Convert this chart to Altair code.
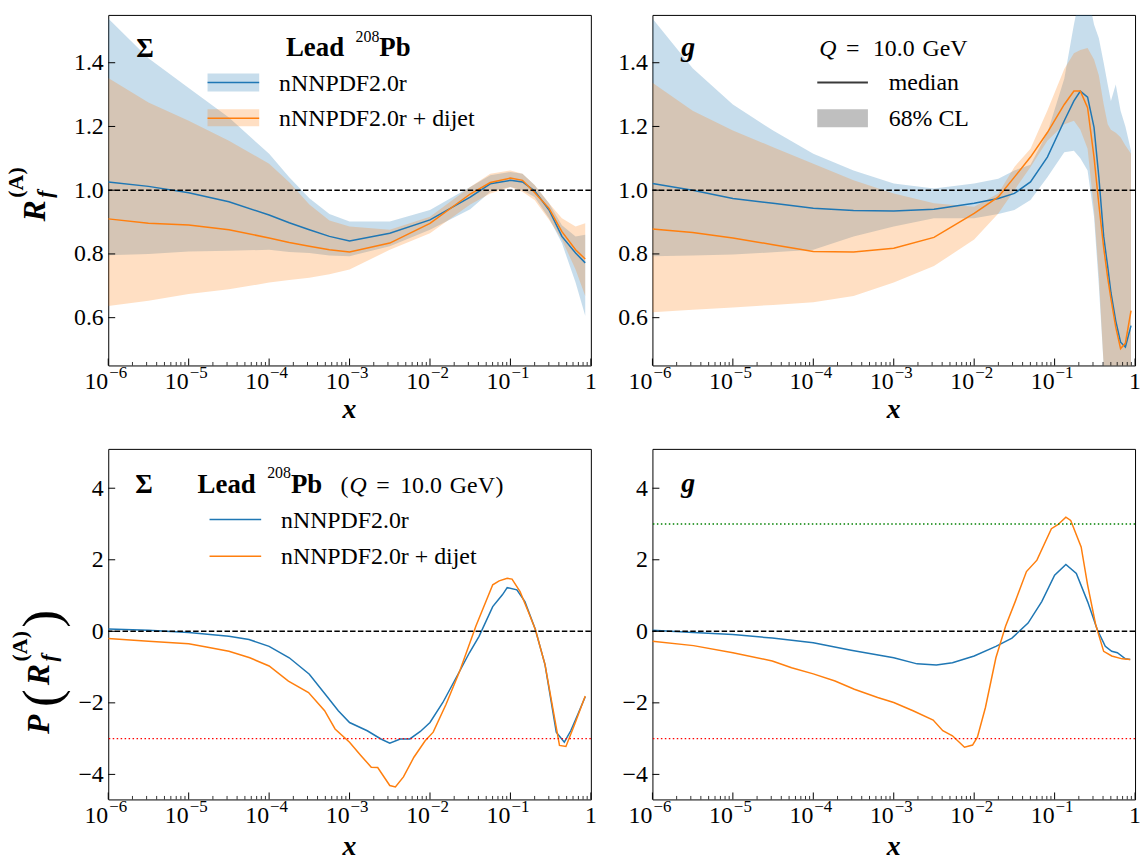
import altair as alt
import numpy as np
import pandas as pd

SERIF = "'Liberation Serif', 'DejaVu Serif', 'Times New Roman', serif"
BLUE = "#1f77b4"
ORANGE = "#ff7f0e"
PW, PH = 486, 353

# ---------------- Sigma: ratio to proton, 68% CL bands ----------------
sig_r_logx = [-6, -5.5, -5, -4.5, -4, -3.75, -3.5, -3.25, -3, -2.5, -2, -1.5, -1.25,
              -1.0, -0.85, -0.7, -0.52, -0.36, -0.19, -0.07]
sig_r_base_med = [1.026, 1.012, 0.992, 0.964, 0.922, 0.898, 0.876, 0.855, 0.841, 0.865,
                  0.907, 0.978, 1.02, 1.031, 1.026, 0.998, 0.938, 0.855, 0.803, 0.772]
sig_r_base_hi = [1.539, 1.414, 1.321, 1.228, 1.114, 1.041, 0.975, 0.925, 0.902, 0.902,
                 0.938, 1.01, 1.047, 1.057, 1.052, 1.016, 0.959, 0.89, 0.855, 0.86]
sig_r_base_lo = [0.796, 0.80, 0.808, 0.81, 0.813, 0.806, 0.803, 0.795, 0.793, 0.824,
                 0.876, 0.94, 0.995, 1.01, 1.0, 0.979, 0.912, 0.834, 0.71, 0.606]
sig_r_dijet_med = [0.91, 0.896, 0.891, 0.876, 0.85, 0.836, 0.824, 0.813, 0.806, 0.834,
                   0.896, 0.988, 1.024, 1.038, 1.031, 0.993, 0.943, 0.87, 0.813, 0.784]
sig_r_dijet_hi = [1.352, 1.275, 1.218, 1.155, 1.083, 1.025, 0.955, 0.905, 0.886, 0.876,
                  0.917, 1.01, 1.052, 1.062, 1.052, 1.016, 0.959, 0.912, 0.886, 0.896]
sig_r_dijet_lo = [0.637, 0.653, 0.674, 0.689, 0.71, 0.718, 0.725, 0.736, 0.751, 0.813,
                  0.865, 0.955, 0.99, 1.01, 0.995, 0.969, 0.907, 0.845, 0.751, 0.668]

# ---------------- gluon: ratio to proton, 68% CL bands ----------------
g_r_logx = [-6, -5.5, -5, -4.5, -4, -3.5, -3, -2.5, -2, -1.7, -1.5, -1.3, -1.09,
            -0.88, -0.76, -0.68, -0.59, -0.51, -0.45, -0.39, -0.34, -0.3, -0.24,
            -0.18, -0.12, -0.05]
g_r_base_med = [1.021, 1.0, 0.974, 0.959, 0.943, 0.936, 0.935, 0.94, 0.959, 0.974,
                0.99, 1.026, 1.104, 1.218, 1.28, 1.311, 1.292, 1.197, 1.041, 0.855,
                0.76, 0.679, 0.59, 0.523, 0.508, 0.575]
g_r_base_hi = [1.539, 1.383, 1.269, 1.187, 1.114, 1.062, 1.021, 1.005, 1.021, 1.036,
               1.062, 1.08, 1.18, 1.35, 1.52, 1.62, 1.62, 1.52, 1.477, 1.40,
               1.332, 1.28, 1.332, 1.249, 1.20, 1.124]
g_r_base_lo = [0.793, 0.795, 0.798, 0.805, 0.813, 0.855, 0.886, 0.912, 0.912, 0.925,
               0.938, 0.969, 1.041, 1.119, 1.124, 1.10, 1.062, 0.917, 0.70, 0.45,
               0.25, 0.2, 0.2, 0.2, 0.2, 0.2]
g_r_dijet_med = [0.878, 0.867, 0.85, 0.829, 0.808, 0.806, 0.818, 0.852, 0.927, 0.979,
                 1.041, 1.104, 1.181, 1.269, 1.311, 1.311, 1.259, 1.104, 0.955, 0.82,
                 0.725, 0.66, 0.57, 0.503, 0.52, 0.622]
g_r_dijet_hi = [1.337, 1.249, 1.187, 1.135, 1.083, 1.031, 0.99, 0.959, 0.948, 0.99,
                1.073, 1.13, 1.25, 1.38, 1.43, 1.44, 1.446, 1.41, 1.36, 1.27,
                1.207, 1.19, 1.18, 1.166, 1.14, 1.114]
g_r_dijet_lo = [0.617, 0.625, 0.632, 0.64, 0.648, 0.668, 0.71, 0.762, 0.845, 0.927,
                1.0, 1.073, 1.155, 1.207, 1.218, 1.19, 1.13, 0.938, 0.73, 0.45,
                0.2, 0.2, 0.2, 0.2, 0.2, 0.2]

# ---------------- pulls P(R_f^(A)) ----------------
sig_p_base_logx = [-6, -5.5, -5, -4.5, -4.25, -4, -3.75, -3.5, -3.27, -3.14, -3, -2.78,
                   -2.61, -2.5, -2.37, -2.25, -2.12, -2, -1.84, -1.63, -1.51, -1.39,
                   -1.22, -1.1, -1.04, -0.92, -0.82, -0.69, -0.57, -0.43, -0.33, -0.25,
                   -0.16, -0.07]
sig_p_base = [0.065, 0.03, -0.03, -0.14, -0.23, -0.42, -0.74, -1.2, -1.85, -2.22, -2.55,
              -2.78, -3.01, -3.13, -3.01, -3.01, -2.8, -2.55, -1.99, -1.11, -0.6, -0.14,
              0.69, 1.02, 1.22, 1.16, 0.83, 0.05, -0.93, -2.82, -3.1, -2.78, -2.31, -1.83]
sig_p_dijet_logx = [-6, -5.5, -5, -4.78, -4.5, -4.24, -4, -3.76, -3.51, -3.31, -3.18, -3,
                    -2.86, -2.73, -2.65, -2.5, -2.43, -2.33, -2.2, -2.06, -1.96, -1.8,
                    -1.63, -1.43, -1.22, -1.14, -1.04, -0.98, -0.88, -0.78, -0.69, -0.57,
                    -0.39, -0.31, -0.2, -0.07]
sig_p_dijet = [-0.2, -0.28, -0.35, -0.44, -0.56, -0.74, -0.97, -1.39, -1.71, -2.22, -2.73,
               -3.1, -3.47, -3.8, -3.81, -4.31, -4.35, -4.07, -3.52, -3.06, -2.82, -2.04,
               -1.11, 0.14, 1.3, 1.41, 1.48, 1.46, 1.11, 0.56, 0.05, -0.93, -3.19, -3.22,
               -2.59, -1.81]
g_p_base_logx = [-6, -5.49, -5.0, -4.51, -4.0, -3.53, -3.0, -2.71, -2.47, -2.27, -2.0,
                 -1.73, -1.53, -1.33, -1.16, -1.0, -0.86, -0.73, -0.59, -0.47, -0.37,
                 -0.29, -0.22, -0.12, -0.06]
g_p_base = [0.03, -0.03, -0.09, -0.19, -0.32, -0.53, -0.74, -0.91, -0.94, -0.88, -0.69,
            -0.42, -0.19, 0.23, 0.83, 1.57, 1.87, 1.62, 0.83, 0.05, -0.42, -0.56, -0.6,
            -0.77, -0.79]
g_p_dijet_logx = [-6, -5.49, -5.0, -4.51, -4.27, -4.0, -3.73, -3.49, -3.2, -3.0, -2.76,
                  -2.51, -2.39, -2.27, -2.12, -2.02, -1.96, -1.86, -1.73, -1.61, -1.49,
                  -1.35, -1.22, -1.04, -0.96, -0.86, -0.80, -0.67, -0.59, -0.49, -0.39,
                  -0.29, -0.16, -0.06]
g_p_dijet = [-0.28, -0.4, -0.6, -0.83, -1.02, -1.19, -1.39, -1.62, -1.85, -1.99, -2.22,
             -2.48, -2.78, -2.92, -3.24, -3.18, -2.96, -2.13, -0.74, 0.14, 0.83, 1.67,
             1.99, 2.87, 2.98, 3.19, 3.1, 2.36, 1.3, 0.19, -0.56, -0.69, -0.77, -0.79]

# ---------------- axes ----------------
major_ticks = [1e-6, 1e-5, 1e-4, 1e-3, 1e-2, 1e-1, 1.0]
major_exps = ["\u22126", "\u22125", "\u22124", "\u22123", "\u22122", "\u22121"]
minor_ticks = [m * 10.0 ** e for e in range(-6, 0) for m in range(2, 10)]
ratio_ticks = [0.6, 0.8, 1.0, 1.2, 1.4]
pull_ticks = [-4, -2, 0, 2, 4]

XS = alt.Scale(type="log", domain=[1e-6, 1.0], nice=False)
YS_RATIO = alt.Scale(domain=[0.45, 1.55], nice=False, zero=False)
YS_PULL = alt.Scale(domain=[-4.7, 5.1], nice=False, zero=False)

ONE = pd.DataFrame({"k": [0]})


def y_axis(values, expr):
    return alt.Axis(values=values, ticks=False, domain=False, grid=False,
                    labelFont=SERIF, labelFontSize=24, labelColor="black",
                    labelPadding=5, title=None, labelExpr=expr)


def text(s, x, y, size=24, weight="normal", style="normal", align="left",
         angle=0, color="black"):
    return alt.Chart(ONE).mark_text(
        text=s, font=SERIF, fontSize=size, fontWeight=weight, fontStyle=style,
        align=align, baseline="alphabetic", angle=angle, color=color
    ).encode(x=alt.value(x), y=alt.value(y))


def hline(x1, x2, y, color, width=1.5):
    return alt.Chart(ONE).mark_rule(color=color, strokeWidth=width).encode(
        x=alt.value(x1), x2=alt.value(x2), y=alt.value(y))


def patch(x1, x2, y1, y2, color, opacity):
    return alt.Chart(ONE).mark_rect(color=color, opacity=opacity).encode(
        x=alt.value(x1), x2=alt.value(x2), y=alt.value(y1), y2=alt.value(y2))


def ref_line(value, ys, yax, color, dash, width=1.5):
    return alt.Chart(ONE).mark_rule(color=color, strokeDash=dash, strokeWidth=width).encode(
        y=alt.Y("v:Q", scale=ys, axis=yax)).transform_calculate(v=str(value))


def band(logx, lo, hi, color, ys, yax):
    df = pd.DataFrame({"x": np.power(10.0, logx), "lo": lo, "hi": hi})
    return alt.Chart(df).mark_area(color=color, fillOpacity=0.25, clip=True).encode(
        x=alt.X("x:Q", scale=XS, axis=None),
        y=alt.Y("lo:Q", scale=ys, axis=yax), y2="hi:Q")


def curve(logx, vals, color, ys, yax):
    df = pd.DataFrame({"x": np.power(10.0, logx), "v": vals})
    return alt.Chart(df).mark_line(color=color, strokeWidth=1.5, clip=True).encode(
        x=alt.X("x:Q", scale=XS, axis=None),
        y=alt.Y("v:Q", scale=ys, axis=yax))


def frame(ys, yax, yticks, title_drop):
    xmaj = alt.Chart(pd.DataFrame({"t": major_ticks})).mark_rule(
        color="black", strokeWidth=1).encode(
        x=alt.X("t:Q", scale=XS, axis=None), y=alt.value(PH), y2=alt.value(PH - 7))
    xmin = alt.Chart(pd.DataFrame({"t": minor_ticks})).mark_rule(
        color="black", strokeWidth=0.8).encode(
        x=alt.X("t:Q", scale=XS, axis=None), y=alt.value(PH), y2=alt.value(PH - 3.5))
    ymaj = alt.Chart(pd.DataFrame({"v": yticks})).mark_rule(
        color="black", strokeWidth=1).encode(
        y=alt.Y("v:Q", scale=ys, axis=yax), x=alt.value(0), x2=alt.value(7))
    tens = alt.Chart(pd.DataFrame({"t": major_ticks[:-1]})).mark_text(
        text="10", font=SERIF, fontSize=24, align="right", baseline="alphabetic",
        color="black").encode(x=alt.X("t:Q", scale=XS, axis=None), y=alt.value(PH + 24))
    exps = alt.Chart(pd.DataFrame({"t": major_ticks[:-1], "e": major_exps})).mark_text(
        font=SERIF, fontSize=17, align="left", baseline="alphabetic", dx=1,
        color="black").encode(x=alt.X("t:Q", scale=XS, axis=None), y=alt.value(PH + 13),
                              text="e:N")
    one = alt.Chart(pd.DataFrame({"t": [1.0]})).mark_text(
        text="1", font=SERIF, fontSize=24, align="center", baseline="alphabetic",
        color="black").encode(x=alt.X("t:Q", scale=XS, axis=None), y=alt.value(PH + 24))
    xt = text("x", PW / 2, PH + title_drop, size=28, weight="bold", style="italic",
              align="center")
    return [xmaj, xmin, ymaj, tens, exps, one, xt]


RATIO_AX = y_axis(ratio_ticks, "format(datum.value, '.1f')")
PULL_AX = y_axis(pull_ticks,
                 "datum.value < 0 ? '\u2212' + format(-datum.value, 'd') : format(datum.value, 'd')")

# ---------------- top-left: Sigma ratio ----------------
tl = alt.layer(
    patch(-108, -107, -11, -10, "white", 1),
    band(sig_r_logx, sig_r_base_lo, sig_r_base_hi, BLUE, YS_RATIO, RATIO_AX),
    band(sig_r_logx, sig_r_dijet_lo, sig_r_dijet_hi, ORANGE, YS_RATIO, RATIO_AX),
    curve(sig_r_logx, sig_r_base_med, BLUE, YS_RATIO, RATIO_AX),
    curve(sig_r_logx, sig_r_dijet_med, ORANGE, YS_RATIO, RATIO_AX),
    ref_line(1.0, YS_RATIO, RATIO_AX, "black", [5.5, 2.4]),
    *frame(YS_RATIO, RATIO_AX, ratio_ticks, 53),
    text("\u03a3", 37, 42, size=27, weight="bold", align="center"),
    text("Lead", 179, 41, size=27, weight="bold"),
    text("208", 249, 27, size=16),
    text("Pb", 273, 41, size=27, weight="bold"),
    patch(100, 152, 59, 77, BLUE, 0.25),
    hline(100, 152, 68, BLUE),
    text("nNNPDF2.0r", 172, 77),
    patch(100, 152, 95, 112, ORANGE, 0.25),
    hline(100, 152, 104, ORANGE),
    text("nNNPDF2.0r + dijet", 172, 112),
    text("R", -64, 208, size=32, weight="bold", style="italic", angle=270),
    text("f", -57, 184, size=22, weight="bold", style="italic", angle=270),
    text("(A)", -86, 184, size=22, weight="bold", angle=270),
).properties(width=PW, height=PH)

# ---------------- top-right: gluon ratio ----------------
tr = alt.layer(
    band(g_r_logx, g_r_base_lo, g_r_base_hi, BLUE, YS_RATIO, RATIO_AX),
    band(g_r_logx, g_r_dijet_lo, g_r_dijet_hi, ORANGE, YS_RATIO, RATIO_AX),
    curve(g_r_logx, g_r_base_med, BLUE, YS_RATIO, RATIO_AX),
    curve(g_r_logx, g_r_dijet_med, ORANGE, YS_RATIO, RATIO_AX),
    ref_line(1.0, YS_RATIO, RATIO_AX, "black", [5.5, 2.4]),
    *frame(YS_RATIO, RATIO_AX, ratio_ticks, 53),
    text("g", 29, 41, size=28, weight="bold", style="italic"),
    text("Q", 168, 41, size=24, style="italic"),
    text("=", 195, 41, size=24),
    text("10.0", 222, 41, size=24),
    text("GeV", 272, 41, size=24),
    hline(166, 217, 68, "#3a3a3a", 2),
    text("median", 238, 76),
    patch(166, 217, 95, 113, "#bfbfbf", 1),
    text("68% CL", 238, 112),
).properties(width=PW, height=PH)

# ---------------- bottom-left: Sigma pull ----------------
bl = alt.layer(
    curve(sig_p_base_logx, sig_p_base, BLUE, YS_PULL, PULL_AX),
    curve(sig_p_dijet_logx, sig_p_dijet, ORANGE, YS_PULL, PULL_AX),
    ref_line(0.0, YS_PULL, PULL_AX, "black", [5.5, 2.4]),
    ref_line(-3.0, YS_PULL, PULL_AX, "red", [1.5, 2.5]),
    *frame(YS_PULL, PULL_AX, pull_ticks, 56),
    text("\u03a3", 36, 44, size=27, weight="bold", align="center"),
    text("Lead", 90, 44, size=27, weight="bold"),
    text("208", 160, 29, size=16),
    text("Pb", 184, 44, size=27, weight="bold"),
    text("(", 234, 44, size=24),
    text("Q", 243, 44, size=24, style="italic"),
    text("=", 270, 44, size=24),
    text("10.0", 294, 44, size=24),
    text("GeV", 344, 44, size=24),
    text(")", 390, 44, size=24),
    hline(102, 154, 71, BLUE),
    text("nNNPDF2.0r", 174, 80),
    hline(102, 154, 108, ORANGE),
    text("nNNPDF2.0r + dijet", 174, 116),
    text("P", -60, 287, size=32, weight="bold", style="italic", angle=270),
    text("(", -50, 260, size=54, angle=270),
    text("R", -60, 238, size=32, weight="bold", style="italic", angle=270),
    text("f", -53, 214, size=22, weight="bold", style="italic", angle=270),
    text("(A)", -82, 214, size=22, weight="bold", angle=270),
    text(")", -50, 180, size=54, angle=270),
).properties(width=PW, height=PH)

# ---------------- bottom-right: gluon pull ----------------
br = alt.layer(
    curve(g_p_base_logx, g_p_base, BLUE, YS_PULL, PULL_AX),
    curve(g_p_dijet_logx, g_p_dijet, ORANGE, YS_PULL, PULL_AX),
    ref_line(0.0, YS_PULL, PULL_AX, "black", [5.5, 2.4]),
    ref_line(3.0, YS_PULL, PULL_AX, "green", [1.5, 2.5]),
    ref_line(-3.0, YS_PULL, PULL_AX, "red", [1.5, 2.5]),
    *frame(YS_PULL, PULL_AX, pull_ticks, 56),
    text("g", 29, 43, size=28, weight="bold", style="italic"),
).properties(width=PW, height=PH)

chart = alt.concat(
    tl, tr, bl, br, columns=2, spacing={"row": 84, "column": 62}, bounds="flush"
).properties(padding=0).configure_view(stroke="black", strokeWidth=1)

chart.save("out.html", embed_options={"renderer": "svg", "actions": False})
